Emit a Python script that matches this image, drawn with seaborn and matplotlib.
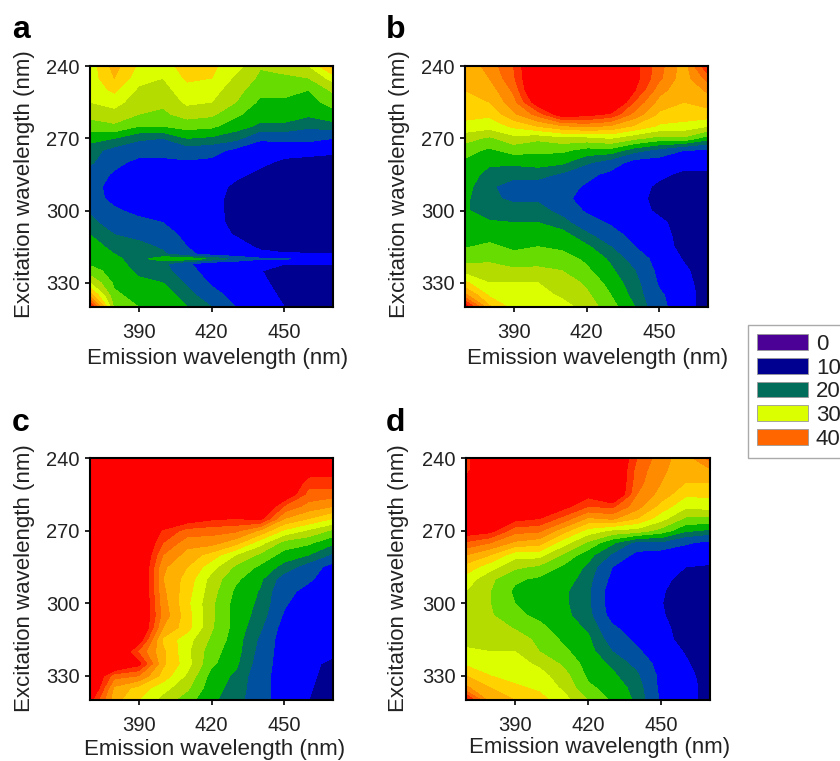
import numpy as np
import matplotlib
matplotlib.use("Agg")
import matplotlib.pyplot as plt
from matplotlib.patches import Patch
import seaborn as sns

sns.set_theme(style="ticks")
plt.rcParams['font.family'] = ['Liberation Sans', 'DejaVu Sans']

W, H = 840, 761

em = [370, 380, 390, 400, 410, 420, 430, 440, 450, 460, 470]
ex = [240, 245, 250, 255, 260, 265, 270, 275, 280, 285, 290, 295, 300, 305, 310, 315, 320, 325, 330, 335, 340]
ex_a = [240, 245, 250, 255, 260, 265, 270, 275, 280, 285, 290, 295, 300, 305, 310, 315, 318, 320, 322, 325, 330, 335, 340]

# one inner list per emission wavelength, values running down the excitation axis
panel_a = [
    [31, 31, 31, 30, 28.5, 26, 23.5, 21, 20.5, 18.5, 18, 18, 19.5, 21, 22.5, 24, 24.3, 24.5, 24.6, 26, 30, 36, 46],
    [36, 35, 33, 31, 29, 27, 22.5, 19, 17.5, 16, 15, 15.5, 17, 18, 20, 21.5, 22.5, 23, 23.3, 24, 24.5, 25.5, 27],
    [32, 31, 29.5, 28.5, 27.5, 25, 20.5, 18, 15.5, 14.5, 14, 14.5, 15.5, 17.5, 19, 21, 21.2, 21.5, 21.6, 22, 23, 24, 25],
    [31, 30, 29, 28, 27, 25, 20, 18, 15.5, 14, 13.5, 14, 15, 16.5, 18, 19.5, 20.5, 24, 20.7, 21, 22.5, 24, 24],
    [34, 33, 31.5, 30.5, 28.5, 26, 22.5, 18.5, 16, 15, 14, 14, 14, 14.5, 15.5, 16.5, 17.5, 24, 17, 18, 19.5, 21, 22.5],
    [33, 32.5, 31, 30, 28, 25.5, 22, 18, 15.5, 14.5, 14, 14, 14, 14, 14, 14.5, 14.8, 22, 14.2, 14.5, 16, 18, 20],
    [31, 29.5, 28.5, 27.5, 25.5, 23.5, 21, 15.5, 14.5, 13.5, 12.5, 12, 12, 12.2, 12.8, 14, 14, 19, 14, 14, 14.5, 15, 16.5],
    [27.7, 27, 25.7, 24.5, 23.5, 22, 17, 14.5, 13.5, 12.5, 12, 11.5, 11.5, 11.5, 12, 12.6, 13.5, 17, 13.2, 13.1, 13.6, 14.5, 15.5],
    [28.5, 27, 25.8, 24.5, 23.5, 22, 17.5, 14, 12.5, 12, 11.5, 11.5, 11.5, 11.5, 11.5, 12, 13.2, 17, 13.1, 12, 12, 12.3, 13],
    [30, 27.5, 25, 24, 23, 20.5, 17.5, 14, 12, 11.5, 11.5, 11.5, 11.5, 11.5, 11.5, 11.5, 13.2, 15, 13.1, 12, 12, 11.5, 11.5],
    [36, 31, 28, 26, 24, 21.5, 16.5, 13.5, 12, 11.5, 11.5, 11.5, 11.5, 11.5, 11.5, 11.5, 13.2, 15, 13.1, 11.5, 11.5, 11.5, 11.5],
]
panel_b = [
    [35.5, 35.5, 35, 35, 33.5, 31.5, 28.5, 26, 24.5, 24, 23.5, 23, 23, 23, 24, 24.8, 26.5, 29, 33, 38, 47],
    [38.5, 37.5, 36, 35, 33, 31, 27, 24.5, 23, 21.5, 20.5, 20.5, 20.5, 23, 24, 25.5, 27, 28.5, 30, 32, 35.5],
    [42.5, 42, 40.5, 39, 37, 33, 29, 26, 23, 21, 18.5, 19.5, 21, 22.5, 24, 24.5, 26, 28, 30, 31, 31.5],
    [50, 50, 50, 47, 41, 35, 28, 25.5, 23.5, 21, 18.5, 19.5, 21, 22.5, 24, 25, 26.5, 28, 30, 31, 32],
    [50, 50, 50, 50, 47, 37, 29, 25.5, 23, 19.5, 18, 17.5, 19, 21, 23.5, 24.5, 26, 27.5, 29, 29.5, 31],
    [50, 50, 50, 50, 46, 38, 29, 24, 20.5, 17.5, 16, 15, 16, 18, 20.5, 23, 24.5, 25.5, 27, 28, 29],
    [50, 50, 50, 50, 44.5, 37, 30, 24, 18.5, 15.5, 14.5, 14, 14.5, 16, 18, 20, 22, 23, 24, 25, 26],
    [46, 46, 45, 42, 39, 34.5, 28, 21, 15, 14, 14, 14, 14, 14, 15, 16.5, 18.5, 20, 21, 21.5, 22.5],
    [41, 40.5, 38.5, 36.5, 34.5, 32, 26.5, 19, 14.5, 13.5, 12.5, 12, 12.5, 13.5, 14, 14.5, 15, 15.5, 16, 17, 17.5],
    [36, 36, 35.5, 35, 34, 31.5, 27, 16.5, 14, 12.5, 12, 12, 12, 12, 12, 12, 12.8, 13.5, 14, 14.5, 14.5],
    [45, 41, 38, 36, 34, 30, 23.5, 16, 14, 12.5, 11.5, 11.5, 11.5, 11.5, 11.5, 11.5, 11.5, 11.5, 11.5, 11.5, 11.5],
]
panel_c = [
    [50, 50, 50, 50, 50, 50, 50, 50, 50, 50, 50, 50, 50, 50, 50, 50, 50, 50, 50, 50, 46],
    [50, 50, 50, 50, 50, 50, 50, 50, 50, 50, 50, 50, 50, 50, 50, 50, 50, 50, 41, 37, 36],
    [50, 50, 50, 50, 50, 50, 50, 50, 50, 50, 50, 50, 50, 50, 50, 47, 42, 46, 40, 34, 32.5],
    [50, 50, 50, 50, 50, 50, 44.5, 42.5, 40, 38, 37.5, 38, 38.5, 39, 37.5, 34.5, 35.5, 35.5, 34, 31, 29],
    [50, 50, 50, 50, 50, 47, 41.5, 38.5, 36.5, 35, 34, 33.5, 33, 33.5, 33.5, 31, 30.5, 31, 29.5, 28, 26],
    [50, 50, 50, 50, 50, 45.5, 41, 38.5, 34, 31, 29, 28.5, 28, 28, 27.8, 27, 26, 25.5, 24, 23.5, 23],
    [50, 50, 50, 50, 50, 45, 40.5, 36, 30, 27, 25.5, 24.5, 24, 24, 24, 23.7, 23.5, 23, 22, 21.5, 21],
    [50, 50, 50, 50, 50, 46, 37, 31, 27, 24.5, 23, 22.3, 22, 21.5, 20.5, 19.5, 19, 18.5, 18, 18, 18],
    [50, 50, 50, 48, 42, 37.5, 32, 26.5, 24, 21.5, 18.5, 17.5, 17, 16, 15, 14.5, 14.5, 14.5, 14.5, 14.5, 14.5],
    [50, 47, 43.5, 41.5, 39, 35, 29.5, 25.5, 22.5, 18.5, 17, 15.5, 14, 14, 13.5, 13.5, 13.5, 13.5, 13.5, 13.3, 13],
    [50, 46, 44, 41, 37.5, 32.5, 27, 23, 19.5, 15, 14.5, 14, 14, 14, 14, 14, 13.5, 12.5, 12, 11.5, 11.5],
]
panel_d = [
    [44, 44, 46, 50, 50, 50, 47, 42, 37.5, 34, 31.5, 30, 29, 29, 28.5, 29, 30.5, 32, 35, 38, 46],
    [50, 50, 50, 50, 50, 50, 46, 40, 35, 31, 28, 27.5, 27.5, 27.8, 28.5, 29, 30, 31, 32.5, 35, 36],
    [50, 50, 50, 50, 50, 46, 41, 37, 31, 28, 25.5, 24.5, 25, 25.5, 27.3, 28.5, 30, 31, 31.5, 33, 35],
    [50, 50, 50, 50, 50, 45, 40.5, 36, 31, 27, 24.5, 24, 24, 24.5, 25.5, 27, 27.5, 29.5, 31, 32, 33.5],
    [50, 50, 50, 50, 46, 41.5, 36, 31, 27, 24.5, 24, 23, 23, 23.2, 24, 24.5, 25.5, 27, 28.5, 29.5, 31],
    [50, 50, 50, 46, 42.5, 37, 31.5, 27, 23.5, 22, 21, 20.5, 20.5, 21, 22, 23, 23.5, 24, 24.5, 25.5, 27.5],
    [50, 50, 50, 50, 43, 38, 29.5, 23, 19.5, 16.5, 15.5, 14.5, 14.5, 15, 17, 18.5, 20, 22, 23, 24, 24.5],
    [42.5, 41.5, 41, 40, 38.5, 35, 29, 19, 15.5, 14.5, 14, 14, 14, 14, 14.5, 15.8, 17, 19, 20.5, 21.5, 22],
    [38.5, 38, 37.5, 36.5, 34, 31, 26.5, 19.5, 14.5, 14, 13.8, 13.3, 13.1, 13.3, 13.6, 14, 14.5, 15, 15.5, 15.5, 16],
    [36, 36, 35, 33, 30.5, 27, 23, 17, 14, 13, 12, 11.5, 11.5, 11.5, 12, 12, 12.8, 13.3, 14, 14.5, 14.5],
    [41, 37, 35, 33, 31, 27, 22, 15.5, 13.8, 12.8, 11.5, 11.5, 11.5, 11.5, 11.5, 11.5, 11.5, 11.5, 11.5, 11.5, 11.5],
]

levels = [0, 10, 13, 16.5, 20, 22.5, 25, 27.5, 30, 32.5, 35, 37.5, 40, 42.5, 45, 60]
band_colors = ["#4B0096", "#000090", "#0000FF", "#0050A0", "#006E5A", "#00B400", "#66DC00",
               "#B4DC00", "#DCFF00", "#FFD200", "#FFB000", "#FF8C00", "#FF6600", "#FF3300", "#FF0000"]
legend_labels = ["0", "10", "20", "30", "40"]
legend_colors = ["#4B0096", "#000090", "#006E5A", "#DCFF00", "#FF6600"]
tick_x = [390, 420, 450]
tick_y = [240, 270, 300, 330]
palette = sns.color_palette(band_colors)

fig = plt.figure(figsize=(W / 100, H / 100), dpi=100, facecolor="white")

# letter, data, rows, axes box px (l, t, r, b), xlabel centre px, ylabel centre px, letter px
panels = [
    ("a", panel_a, ex_a, (90, 66, 333, 307), (218, 358), (25, 184), (12, 38)),
    ("b", panel_b, ex, (465, 66, 708, 307), (598, 358), (399, 184), (386, 38)),
    ("c", panel_c, ex, (90, 458, 333, 700), (215, 750), (25, 578), (12, 431)),
    ("d", panel_d, ex, (466, 458, 710, 700), (600, 748), (399, 578), (386, 431)),
]

for letter, data, rows, (l, t, r, b), (xl, yl), (ylx, yly), (lx, ly) in panels:
    ax = fig.add_axes([l / W, 1 - b / H, (r - l) / W, (b - t) / H])
    Z = np.array(data, dtype=float).T
    ax.contourf(em, rows, Z, levels=levels, colors=palette)
    ax.set_xlim(370, 470)
    ax.set_ylim(340, 240)
    ax.set_xticks(tick_x)
    ax.set_yticks(tick_y)
    ax.tick_params(length=3.6, width=1.2, color="black", labelsize=14.5, labelcolor="#222222")
    ax.tick_params(axis="x", pad=8)
    ax.tick_params(axis="y", pad=4)
    for s in ax.spines.values():
        s.set_visible(True)
        s.set_linewidth(1.5)
        s.set_color("black")
    ax.set_xlabel("Emission wavelength (nm)", fontsize=16, color="#222222")
    ax.set_ylabel("Excitation wavelength (nm)", fontsize=16, color="#222222")
    ax.xaxis.set_label_coords((xl - l) / (r - l), (b - yl) / (b - t), transform=ax.transAxes)
    ax.xaxis.label.set_verticalalignment("center")
    ax.yaxis.set_label_coords((ylx - l) / (r - l), (b - yly) / (b - t), transform=ax.transAxes)
    ax.yaxis.label.set_verticalalignment("center")
    fig.text(lx / W, 1 - ly / H, letter, fontsize=23, fontweight="bold", color="black", ha="left", va="baseline")

handles = [Patch(facecolor=c, edgecolor="#999999", linewidth=0.6) for c in legend_colors]
fig.legend(handles, legend_labels, loc="upper left", bbox_to_anchor=(748 / W, 1 - 325 / H),
           borderaxespad=0, fontsize=16, fancybox=False, framealpha=1, edgecolor="#AAAAAA",
           handlelength=2.3, handleheight=0.72, handletextpad=0.36, labelspacing=0.12,
           borderpad=0.4, labelcolor="#222222")

fig.savefig("out.png", dpi=100)
